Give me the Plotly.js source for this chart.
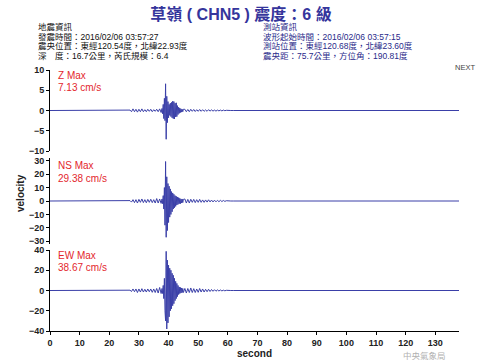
<!DOCTYPE html>
<html><head><meta charset="utf-8">
<script src="https://cdn.plot.ly/plotly-3.0.1.min.js"></script>
<style>html,body{margin:0;padding:0;background:#fff}</style>
</head><body><div id="chart" style="width:485px;height:360px"></div>
<script>
// ---- data ----
const seconds = [0, 26,
  26.5, 27, 27.5, 28, 28.5, 29, 29.5, 30, 30.5, 31, 31.5, 32, 32.5, 33, 33.5, 34, 34.5, 35, 35.5, 36, 36.5, 37, 37.5,
  37.8, 38, 38.2, 38.4, 38.6, 38.8, 39, 39.2, 39.4, 39.6, 39.8, 40, 40.2, 40.4, 40.6, 40.8, 41, 41.2, 41.4, 41.6, 41.8,
  42, 42.2, 42.4, 42.6, 42.8, 43, 43.2, 43.4, 43.6, 43.8, 44, 44.2, 44.4, 44.6, 44.8, 45,
  45.5, 46, 46.5, 47, 47.5, 48, 48.5, 49, 49.5, 50, 50.5, 51, 51.5, 52, 52.5, 53, 53.5, 54, 54.5, 55, 55.5, 56, 56.5, 57, 57.5, 58, 58.5, 59, 59.5, 60,
  61, 62, 138];

const zVelocity = [0, 0,
  0, 0.1, -0.3, 0.4, -0.3, 0.3, -0.4, 0.3, -0.3, 0.4, -0.3, 0.2, -0.3, 0.3, -0.2, 0.3, -0.3, 0.2, -0.2, 0.3, -0.3, 0.4, -0.5,
  0.5, -0.8, 1.5, -2.0, 3.0, -2.5, 6.6, -7.1, 3.5, -3.0, 2.2, -1.8, 1.5, -1.2, 1.8, -1.5, 2.0, -1.8, 2.3, -2.0, 2.2,
  -2.1, 1.8, -1.6, 1.9, -1.5, 1.2, -1.0, 0.8, -0.7, 0.6, -0.5, 0.4, -0.4, 0.3, -0.3, 0.3,
  0.3, -0.3, 0.25, -0.3, 0.3, -0.2, 0.25, -0.25, 0.2, -0.2, 0.25, -0.2, 0.2, -0.2, 0.15, -0.2, 0.2, -0.15, 0.15, -0.15, 0.1, -0.15, 0.1, -0.1, 0.1, -0.1, 0.1, -0.05, 0.05, 0,
  0, 0, 0];

const nsVelocity = [0, 0,
  0, 0.3, -0.8, 1.0, -1.2, 1.0, -1.5, 1.2, -1.0, 1.5, -1.2, 1.0, -1.3, 1.2, -1.0, 1.3, -1.2, 1.0, -1.5, 1.8, -1.5, 1.5, -1.8,
  1.5, -2, 4, -6, 10, -18, 29.38, -27, 18, -22, 13, -16, 11, -12, 9, -10, 7, -8, 6, -6, 5,
  -5, 4, -4, 3.5, -3, 3, -2.5, 2.5, -2, 2, -2, 1.5, -1.5, 1.5, -1.2, 1.2,
  1.5, -1.5, 1.2, -1.5, 1.3, -1.0, 1.2, -1.2, 1.0, -1.0, 1.2, -1.0, 0.8, -1.0, 0.8, -0.8, 0.9, -0.7, 0.7, -0.7, 0.6, -0.6, 0.5, -0.5, 0.5, -0.4, 0.4, -0.3, 0.2, 0,
  0, 0, 0];

const ewVelocity = [0, 0,
  0, 0.3, -1, 1.5, -1.2, 1.5, -2, 1.5, -1.5, 1.8, -1.5, 1.2, -1.5, 1.5, -1.2, 1.5, -1.8, 1.5, -2, 2, -2.5, 3, -3,
  2, -3, 5, -8, 12, -20, -30, 38.67, -38, 30, -32, 25, -26, 22, -20, 20, -18, 17, -15, 15, -13,
  12, -10, 9, -8, 7, -6, 5, -4, 3.5, -3, 3, -2.5, 2.5, -2, 2, -2,
  2, -2.5, 2, -2, 2.5, -2, 1.8, -2, 1.5, -1.8, 2, -1.5, 1.5, -1.5, 1.2, -1.2, 1.2, -1, 1, -0.8, 0.8, -0.7, 0.6, -0.5, 0.5, -0.4, 0.3, -0.3, 0.2, 0,
  0, 0, 0];

const xTickValues = [0, 10, 20, 30, 40, 50, 60, 70, 80, 90, 100, 110, 120, 130];
const zTickValues = [-10, -5, 0, 5, 10];
const nsTickValues = [-30, -20, -10, 0, 10, 20, 30];
const ewTickValues = [-40, -20, 0, 20, 40];

const componentNames = ['Z Max', 'NS Max', 'EW Max'];
const maxLabels = ['7.13 cm/s', '29.38 cm/s', '38.67 cm/s'];

const titleText = '草嶺 ( CHN5 ) 震度：6 級';
const quakeInfo = ['地震資訊', '發震時間：2016/02/06 03:57:27', '震央位置：東經120.54度，北緯22.93度', '深　度：16.7公里，芮氏規模：6.4'];
const stationInfo = ['測站資訊', '波形起始時間：2016/02/06 03:57:15', '測站位置：東經120.68度，北緯23.60度', '震央距：75.7公里，方位角：190.81度'];
const nextText = 'NEXT';
const watermark = '中央氣象局';

// ---- layout helpers ----
const W = 485, H = 360, ML = 50, MR = 26, MT = 70, MB = 29;
const PW = W - ML - MR, PH = H - MT - MB;
const px = x => (x - ML) / PW;
const py = y => (H - MB - y) / PH;

const lineColor = '#3a3fa8';
const fontLatin = 'Liberation Sans, Arial, Noto Sans CJK TC, sans-serif';
const fontCJK = 'Liberation Sans, Noto Sans CJK TC, sans-serif';

const traces = [zVelocity, nsVelocity, ewVelocity].map((v, i) => ({
  x: seconds, y: v, type: 'scatter', mode: 'lines',
  xaxis: 'x', yaxis: i === 0 ? 'y' : 'y' + (i + 1),
  line: {color: lineColor, width: 1}, hoverinfo: 'skip', showlegend: false
}));

const yBase = {
  anchor: 'x', showgrid: false, zeroline: false, showline: true, linecolor: '#000', linewidth: 1,
  ticks: 'outside', ticklen: 3, tickcolor: '#000', tickmode: 'array',
  tickfont: {family: fontLatin, size: 9, color: '#222', weight: 'bold'}, fixedrange: true
};

const annotations = [];
function addText(text, x, y, opts) {
  annotations.push(Object.assign({
    text: text, xref: 'paper', yref: 'paper', x: px(x), y: py(y),
    xanchor: 'left', yanchor: 'middle', showarrow: false, borderpad: 0
  }, opts));
}
const infoFont = {family: fontCJK, size: 8.5, color: '#111'};
const infoY = [27.5, 37, 46.5, 56];
quakeInfo.forEach((t, i) => addText(t, 37, infoY[i], {font: infoFont}));
stationInfo.forEach((t, i) => addText(t, 262, infoY[i], {font: Object.assign({}, infoFont, {color: '#2a2a8a'})}));
addText(nextText, 454, 68, {font: {family: fontLatin, size: 7.5, color: '#444'}});
addText(watermark, 424, 355, {xanchor: 'center', font: {family: 'Noto Sans CJK TC', size: 8.5, color: '#b0b0b0'}});

const redFont = {family: fontLatin, size: 10, color: '#e3262d'};
const labelY = [[75, 87], [165, 178], [255, 267]];
componentNames.forEach((n, i) => {
  addText(n, 57, labelY[i][0], {font: redFont});
  addText(maxLabels[i], 57, labelY[i][1], {font: redFont});
});
addText('velocity', 20, 193, {xanchor: 'center', textangle: -90, font: {family: fontLatin, size: 10, color: '#222', weight: 'bold'}});

const layout = {
  width: W, height: H, margin: {l: ML, r: MR, t: MT, b: MB},
  paper_bgcolor: '#fff', plot_bgcolor: '#fff',
  title: {text: titleText, x: 0.497, xanchor: 'center', y: 1 - 14 / H, yanchor: 'middle',
    font: {family: fontCJK, size: 16, color: '#35359c', weight: 'bold'}},
  xaxis: {anchor: 'y3', range: [0, 138], showgrid: false, zeroline: false, showline: true, linecolor: '#000',
    ticks: 'outside', ticklen: 3, tickcolor: '#000', tickmode: 'array', tickvals: xTickValues,
    tickfont: {family: fontLatin, size: 9, color: '#222', weight: 'bold'},
    title: {text: 'second', standoff: 1, font: {family: fontLatin, size: 10, color: '#222', weight: 'bold'}},
    fixedrange: true},
  yaxis: Object.assign({}, yBase, {domain: [py(151), 1], range: [-10, 10], tickvals: zTickValues}),
  yaxis2: Object.assign({}, yBase, {domain: [py(244), py(158)], range: [-32, 32], tickvals: nsTickValues}),
  yaxis3: Object.assign({}, yBase, {domain: [0, py(250)], range: [-40, 40], tickvals: ewTickValues}),
  annotations: annotations
};

Plotly.newPlot('chart', traces, layout, {staticPlot: true, displayModeBar: false});
</script></body></html>
